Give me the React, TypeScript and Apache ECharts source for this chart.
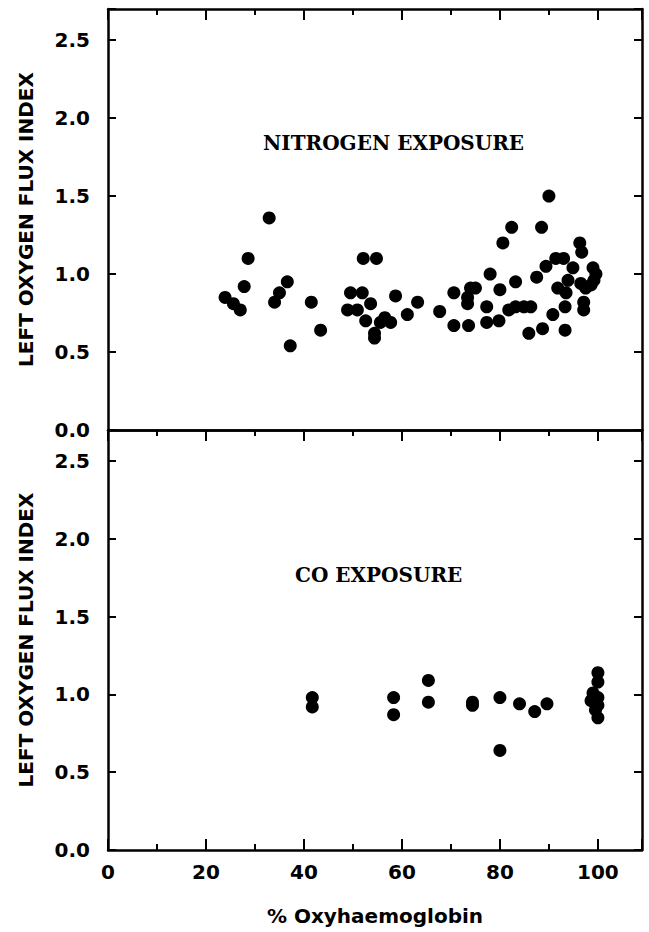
import React, { useEffect, useRef } from "react";
import * as echarts from "echarts";

// % Oxyhaemoglobin vs Left oxygen flux index
const nitrogenX = [
  23.9, 25.6, 27.0, 28.6, 27.8, 32.9, 36.6, 35.0, 34.0, 37.2, 41.5, 43.4,
  52.1, 54.8, 49.5, 51.9, 48.9, 50.9, 53.6, 52.6, 55.6, 57.7, 56.5, 54.4,
  54.4, 58.7, 61.1, 63.2, 67.7, 70.6, 70.6, 73.6, 73.4, 73.4, 74.0, 75.0,
  77.3, 77.3, 79.8, 78.0, 80.0, 80.6, 82.4, 83.2, 81.8, 83.2, 84.9, 86.3,
  85.9, 88.7, 87.5, 88.5, 90.0, 89.4, 91.4, 93.0, 94.9, 90.8, 93.3, 93.3,
  91.8, 93.5, 93.9, 96.3, 96.7, 97.1, 97.1, 96.5, 97.5, 99.0, 99.6, 98.6,
  99.2,
];
const nitrogenY = [
  0.85, 0.81, 0.77, 1.1, 0.92, 1.36, 0.95, 0.88, 0.82, 0.54, 0.82, 0.64,
  1.1, 1.1, 0.88, 0.88, 0.77, 0.77, 0.81, 0.7, 0.69, 0.69, 0.72, 0.62,
  0.59, 0.86, 0.74, 0.82, 0.76, 0.88, 0.67, 0.67, 0.85, 0.81, 0.91, 0.91,
  0.79, 0.69, 0.7, 1.0, 0.9, 1.2, 1.3, 0.95, 0.77, 0.79, 0.79, 0.79,
  0.62, 0.65, 0.98, 1.3, 1.5, 1.05, 1.1, 1.1, 1.04, 0.74, 0.79, 0.64,
  0.91, 0.88, 0.96, 1.2, 1.14, 0.82, 0.77, 0.94, 0.91, 1.04, 1.0, 0.93,
  0.96,
];
const coX = [
  41.7, 41.7, 58.3, 58.3, 65.4, 65.4, 74.4, 74.4, 80.0, 80.0, 84.0, 87.1,
  89.6, 100, 100, 99.0, 98.6, 100, 100, 100, 99.5,
];
const coY = [
  0.98, 0.92, 0.98, 0.87, 1.09, 0.95, 0.95, 0.93, 0.98, 0.64, 0.94, 0.89,
  0.94, 1.14, 1.08, 1.01, 0.96, 0.98, 0.93, 0.85, 0.9,
];
const panelTitles = ["NITROGEN EXPOSURE", "CO EXPOSURE"];
const xTitle = "% Oxyhaemoglobin";
const yTitle = "LEFT OXYGEN FLUX INDEX";

const X_MIN = 0;
const X_MAX = 109;
const Y_MIN = 0;
const Y_MAX = 2.7;

export default function App() {
  const ref = useRef<HTMLDivElement>(null);

  useEffect(() => {
    if (!ref.current) return;
    const chart = echarts.init(ref.current, undefined, { renderer: "svg" });
    const black = "#000";
    const labelFont = {
      fontFamily: "DejaVu Sans",
      fontWeight: "bold" as const,
      fontSize: 20,
      color: black,
    };

    const grids = [
      { left: 108, top: 9, width: 534, height: 421 },
      { left: 108, top: 430, width: 534, height: 420 },
    ];

    const xAxes: any[] = [];
    const yAxes: any[] = [];
    grids.forEach((_, gi) => {
      const isBottomPanel = gi === 1;
      // bottom major (data axis)
      xAxes.push({
        type: "value",
        gridIndex: gi,
        position: "bottom",
        min: X_MIN,
        max: X_MAX,
        interval: 20,
        axisLine: { show: true, onZero: false, lineStyle: { color: black, width: 2.5 } },
        axisTick: {
          show: isBottomPanel,
          inside: true,
          length: 11,
          lineStyle: { color: black, width: 2 },
        },
        axisLabel: {
          show: isBottomPanel,
          margin: 12,
          ...labelFont,
          formatter: (v: number) => (v % 20 === 0 ? String(v) : ""),
        },
        splitLine: { show: false },
        name: isBottomPanel ? xTitle : "",
        nameLocation: "middle",
        nameGap: 56,
        nameTextStyle: { ...labelFont, fontSize: 20 },
      });
      // bottom minor
      xAxes.push({
        type: "value",
        gridIndex: gi,
        position: "bottom",
        min: X_MIN,
        max: X_MAX,
        interval: 10,
        axisLine: { show: false, onZero: false },
        axisTick: {
          show: isBottomPanel,
          inside: true,
          length: 6,
          lineStyle: { color: black, width: 2 },
        },
        axisLabel: { show: false },
        splitLine: { show: false },
      });
      // top major
      xAxes.push({
        type: "value",
        gridIndex: gi,
        position: "top",
        min: X_MIN,
        max: X_MAX,
        interval: 20,
        axisLine: { show: true, onZero: false, lineStyle: { color: black, width: 2.5 } },
        axisTick: { show: true, inside: true, length: 11, lineStyle: { color: black, width: 2 } },
        axisLabel: { show: false },
        splitLine: { show: false },
      });
      // top minor
      xAxes.push({
        type: "value",
        gridIndex: gi,
        position: "top",
        min: X_MIN,
        max: X_MAX,
        interval: 10,
        axisLine: { show: false, onZero: false },
        axisTick: { show: true, inside: true, length: 6, lineStyle: { color: black, width: 2 } },
        axisLabel: { show: false },
        splitLine: { show: false },
      });
      // left
      yAxes.push({
        type: "value",
        gridIndex: gi,
        position: "left",
        min: Y_MIN,
        max: Y_MAX,
        interval: 0.5,
        axisLine: { show: true, onZero: false, lineStyle: { color: black, width: 2.5 } },
        axisTick: { show: true, inside: true, length: 8, lineStyle: { color: black, width: 2 } },
        axisLabel: {
          margin: 18,
          ...labelFont,
          formatter: (v: number) =>
            Math.abs(v * 2 - Math.round(v * 2)) < 1e-6 ? v.toFixed(1) : "",
        },
        splitLine: { show: false },
        name: yTitle,
        nameLocation: "middle",
        nameRotate: 90,
        nameGap: 72,
        nameTextStyle: { ...labelFont, fontSize: 20 },
      });
      // right
      yAxes.push({
        type: "value",
        gridIndex: gi,
        position: "right",
        min: Y_MIN,
        max: Y_MAX,
        interval: 0.5,
        axisLine: { show: true, onZero: false, lineStyle: { color: black, width: 2.5 } },
        axisTick: { show: true, inside: true, length: 8, lineStyle: { color: black, width: 2 } },
        axisLabel: { show: false },
        splitLine: { show: false },
      });
    });

    const nitrogenData = nitrogenX.map((x, i) => [x, nitrogenY[i]]);
    const coData = coX.map((x, i) => [x, coY[i]]);

    chart.setOption({
      animation: false,
      backgroundColor: "#fff",
      grid: grids,
      xAxis: xAxes,
      yAxis: yAxes,
      series: [
        {
          type: "scatter",
          xAxisIndex: 0,
          yAxisIndex: 0,
          data: nitrogenData,
          symbol: "circle",
          symbolSize: 13,
          itemStyle: { color: "#000", opacity: 1 },
        },
        {
          type: "scatter",
          xAxisIndex: 4,
          yAxisIndex: 2,
          data: coData,
          symbol: "circle",
          symbolSize: 13,
          itemStyle: { color: "#000", opacity: 1 },
        },
      ],
      graphic: [
        {
          type: "text",
          left: 263,
          top: 133,
          style: {
            text: panelTitles[0],
            fontFamily: "DejaVu Serif",
            fontWeight: "bold",
            fontSize: 20,
            fill: black,
          },
        },
        {
          type: "text",
          left: 295,
          top: 565,
          style: {
            text: panelTitles[1],
            fontFamily: "DejaVu Serif",
            fontWeight: "bold",
            fontSize: 20,
            fill: black,
          },
        },
      ],
    });

    return () => chart.dispose();
  }, []);

  return (
    <div
      ref={ref}
      style={{ position: "fixed", left: 0, top: 0, width: 649, height: 932, background: "#fff" }}
    />
  );
}
